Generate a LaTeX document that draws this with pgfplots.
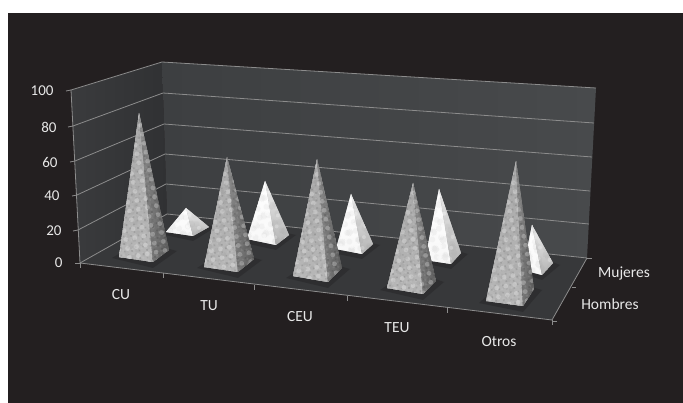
\documentclass[border=0pt]{standalone}
\usepackage{pgfplots}
\pgfplotsset{compat=1.18}
\usepackage{fontspec}
\setmainfont{Carlito}
\usetikzlibrary{patterns.meta}

\definecolor{panel}{HTML}{231F20}
\definecolor{wallL}{HTML}{3A3B3D}
\definecolor{wallLd}{HTML}{303133}
\definecolor{wallBa}{HTML}{3D3F41}
\definecolor{wallBb}{HTML}{484A4C}
\definecolor{floorc}{HTML}{37383A}
\definecolor{gridc}{HTML}{8C8C8C}
\definecolor{txt}{HTML}{E8E8E8}

\tikzset{
	face/.style={draw=none},
	lab/.style={text=txt,font=\fontsize{15.5}{17}\selectfont},
	num/.style={text=txt,font=\fontsize{15}{17}\selectfont,anchor=east},
	speck/.style={
		postaction={pattern={Dots[distance=6.3pt,radius=2.3pt,angle=23]},pattern color=white,opacity=.6},
		postaction={pattern={Dots[distance=7.7pt,radius=2.5pt,angle=61]},pattern color=black,opacity=.34},
		postaction={pattern={Dots[distance=4.7pt,radius=1.2pt,angle=97]},pattern color=white,opacity=.55},
		postaction={pattern={Dots[distance=5.3pt,radius=1.2pt,angle=139]},pattern color=black,opacity=.32},
		postaction={pattern={Dots[distance=9.1pt,radius=2.4pt,angle=11]},pattern color=white,opacity=.5},
	},
	marble/.style={
		postaction={pattern={Dots[distance=9pt,radius=3pt,angle=14]},pattern color=gray,opacity=.3},
		postaction={pattern={Dots[distance=13pt,radius=4pt,angle=52]},pattern color=gray,opacity=.3},
		postaction={pattern={Dots[distance=11pt,radius=2pt,angle=83]},pattern color=white,opacity=.6},
	},
	hleft/.style={face,top color=black!34,bottom color=black!28,speck},
	hright/.style={face,left color=black!46,right color=black!64,speck},
	mleft/.style={face,top color=white,bottom color=black!3,marble},
	mright/.style={face,top color=black!6,bottom color=black!30,marble},
	shadow/.style={draw=none,fill=black,opacity=.16},
}

\begin{document}
\begin{tikzpicture}
\begin{axis}[
	scale only axis,
	width=683pt,
	height=403pt,
	xmin=0, xmax=683,
	ymin=0, ymax=403,
	y dir=reverse,
	hide axis,
	clip=true,
]
% page and panel
\addplot[fill=white,draw=none] coordinates {(0,0) (683,0) (683,403) (0,403)} --cycle;
\addplot[fill=panel,draw=none] coordinates {(8,13) (683,13) (683,403) (8,403)} --cycle;

% walls and floor
\addplot[draw=none,left color=wallL,right color=wallLd] coordinates {(71,90) (162,62) (167,214) (80,263)} --cycle;
\addplot[draw=none,left color=wallBa,right color=wallBb] coordinates {(162,62) (596,88) (587,258) (167,214)} --cycle;
\addplot[fill=floorc,draw=none] coordinates {(80,263) (167,214) (587,258) (552,320)} --cycle;

% gridlines, left wall then back wall, 0 to 100
\pgfplotsset{grid3/.style={draw=gridc,line width=.8pt}}
\addplot[grid3] coordinates {(78,230) (166,184) (589,224)};
\addplot[grid3] coordinates {(77,195) (165,154) (590,191)};
\addplot[grid3] coordinates {(75,161) (164,124) (592,157)};
\addplot[grid3] coordinates {(73,126) (163,93) (594,123)};
\addplot[grid3] coordinates {(71,90) (162,62) (596,88)};
\addplot[grid3] coordinates {(80,263) (167,214) (587,258)};

% axis lines and ticks
\addplot[grid3] coordinates {(71,90) (80,263) (552,320) (587,258)};
\addplot[grid3] coordinates {(66,91) (71,90)};
\addplot[grid3] coordinates {(68,127) (73,126)};
\addplot[grid3] coordinates {(70,162) (75,161)};
\addplot[grid3] coordinates {(72,196) (77,195)};
\addplot[grid3] coordinates {(73,231) (78,230)};
\addplot[grid3] coordinates {(75,263) (80,263)};
\addplot[grid3] coordinates {(80,263) (80,268)};
\addplot[grid3] coordinates {(163,273) (163,278)};
\addplot[grid3] coordinates {(254,285) (254,290)};
\addplot[grid3] coordinates {(347,296) (347,301)};
\addplot[grid3] coordinates {(447,308) (447,313)};
\addplot[grid3] coordinates {(552,320) (552,325)};
\addplot[grid3] coordinates {(552,321) (557,321)};
\addplot[grid3] coordinates {(572,287) (576,287)};
\addplot[grid3] coordinates {(587,258) (592,258)};

% shadows on the floor
\addplot[shadow] coordinates {(160,234) (193,241) (216,227) (190,221)} --cycle;
\addplot[shadow] coordinates {(240,242) (276,250) (296,235) (265,228)} --cycle;
\addplot[shadow] coordinates {(328,252) (362,259) (380,245) (352,238)} --cycle;
\addplot[shadow] coordinates {(418,262) (451,269) (468,254) (440,246)} --cycle;
\addplot[shadow] coordinates {(518,272) (542,280) (560,265) (535,255)} --cycle;
\addplot[shadow] coordinates {(112,258) (153,268) (177,251) (140,241)} --cycle;
\addplot[shadow] coordinates {(197,268) (238,278) (262,260) (225,250)} --cycle;
\addplot[shadow] coordinates {(286,278) (328,288) (350,269) (315,259)} --cycle;
\addplot[shadow] coordinates {(380,290) (423,300) (444,282) (410,270)} --cycle;
\addplot[shadow] coordinates {(479,303) (523,312) (542,290) (505,279)} --cycle;

% Mujeres: CU, TU, CEU, TEU, Otros
\addplot[mleft]  coordinates {(186,208) (166,232) (193,236)} --cycle;
\addplot[mright] coordinates {(186,208) (193,236) (209,227)} --cycle;
\addplot[mleft]  coordinates {(265,181) (247,239) (276,245)} --cycle;
\addplot[mright] coordinates {(265,181) (276,245) (289,235)} --cycle;
\addplot[mleft]  coordinates {(351,194) (336,249) (362,254)} --cycle;
\addplot[mright] coordinates {(351,194) (362,254) (373,244)} --cycle;
\addplot[mleft]  coordinates {(439,189) (425,260) (451,264)} --cycle;
\addplot[mright] coordinates {(439,189) (451,264) (461,253)} --cycle;
\addplot[mleft]  coordinates {(532,225) (523,270) (542,275)} --cycle;
\addplot[mright] coordinates {(532,225) (542,275) (553,263)} --cycle;

% Hombres: CU, TU, CEU, TEU, Otros
\addplot[hleft]  coordinates {(139,113) (119,257) (153,262)} --cycle;
\addplot[hright] coordinates {(139,113) (153,262) (169,250)} --cycle;
\addplot[hleft]  coordinates {(227,157) (204,267) (238,272)} --cycle;
\addplot[hright] coordinates {(227,157) (238,272) (254,259)} --cycle;
\addplot[hleft]  coordinates {(317,159) (293,276) (328,282)} --cycle;
\addplot[hright] coordinates {(317,159) (328,282) (342,268)} --cycle;
\addplot[hleft]  coordinates {(413,183) (387,288) (423,294)} --cycle;
\addplot[hright] coordinates {(413,183) (423,294) (436,281)} --cycle;
\addplot[hleft]  coordinates {(516,161) (486,301) (523,306)} --cycle;
\addplot[hright] coordinates {(516,161) (523,306) (534,289)} --cycle;

% labels
\node[num] at (57,91) {100};
\node[num] at (60,127) {80};
\node[num] at (61,162) {60};
\node[num] at (63,196) {40};
\node[num] at (65,231) {20};
\node[num] at (66,263) {0};
\node[lab] at (121,295) {CU};
\node[lab] at (209,306) {TU};
\node[lab] at (300,317) {CEU};
\node[lab] at (397,328) {TEU};
\node[lab] at (499,342) {Otros};
\node[lab] at (624,273) {Mujeres};
\node[lab] at (610,304) {Hombres};
\end{axis}
\end{tikzpicture}
\end{document}
